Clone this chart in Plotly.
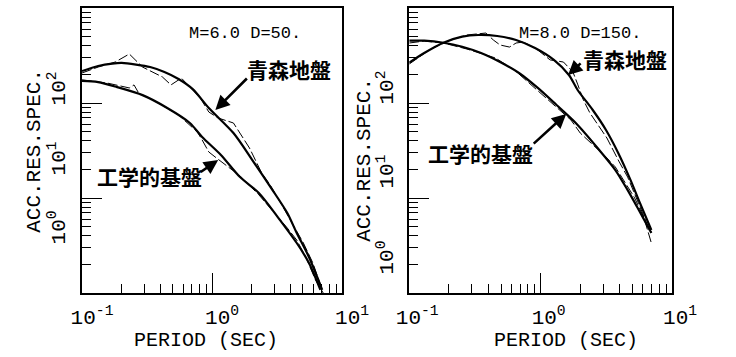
import numpy as np
import plotly.graph_objects as go

# ---------------- data ----------------
# Left panel: M=6.0, D=50
l_aomori_fit_T = [0.1, 0.133, 0.171, 0.202, 0.260, 0.334, 0.430, 0.552, 0.710, 0.944, 1.46, 2.04, 2.85, 3.79, 4.48, 5.56, 7.03]
l_aomori_fit_A = [217, 245, 260, 264, 254, 239, 212, 179, 140, 88.6, 48.3, 25.1, 12.7, 6.95, 4.28, 2.39, 1.08]
l_base_fit_T = [0.1, 0.133, 0.186, 0.292, 0.452, 0.675, 0.839, 1.17, 1.64, 2.29, 3.20, 4.48, 5.56, 6.81]
l_base_fit_A = [171, 166, 147, 121, 88.6, 61.6, 43.9, 28.4, 16.6, 11.3, 6.3, 3.36, 2.07, 1.08]
l_aomori_obs_T = [0.1, 0.133, 0.180, 0.231, 0.292, 0.363, 0.415, 0.483, 0.581, 0.710, 0.811, 0.944, 1.114,
                  1.46, 1.72, 1.94, 2.41, 2.80, 3.37, 4.26, 5.04, 5.96, 7.03]
l_aomori_obs_A = [207, 239, 270, 328, 239, 207, 188, 155, 183, 137, 113, 80.4, 69.5,
                  61.6, 43.9, 33.6, 18.3, 13.7, 8.86, 4.95, 3.36, 2.07, 1.08]
l_base_obs_T = [0.1, 0.157, 0.231, 0.251, 0.273, 0.363, 0.552, 0.771, 0.839, 0.944, 1.08, 1.32, 1.64,
                2.29, 3.37, 3.79, 4.48, 5.30, 6.25, 7.16]
l_base_obs_A = [175, 162, 144, 155, 127, 105, 74.8, 49.5, 40.8, 30.5, 26.4, 21.2, 17.1,
                10.8, 5.87, 4.83, 3.61, 2.34, 1.37, 1.0]

# Right panel: M=8.0, D=150
r_aomori_fit_T = [0.1, 0.130, 0.182, 0.253, 0.335, 0.467, 0.650, 0.906, 1.26, 1.64, 1.91, 2.49, 3.14, 3.89, 4.82, 5.69, 6.95]
r_aomori_fit_A = [266, 336, 431, 499, 520, 507, 460, 379, 284, 197, 137, 84.4, 52, 29.8, 15.5, 8.86, 4.61]
r_base_fit_T = [0.1, 0.130, 0.182, 0.253, 0.352, 0.491, 0.684, 0.951, 1.32, 1.85, 2.79, 3.70, 4.59, 5.42, 6.95]
r_base_fit_A = [453, 453, 431, 391, 336, 270, 207, 144, 95.3, 61.6, 32.0, 19.7, 12.1, 8.04, 4.28]
r_aomori_obs_T = [0.1, 0.142, 0.197, 0.275, 0.383, 0.437, 0.491, 0.579, 0.650, 0.743, 0.951, 1.18, 1.49,
                  1.76, 1.91, 2.11, 2.37, 2.79, 3.19, 3.89, 4.59, 5.42, 6.40, 6.95]
r_aomori_obs_A = [257, 361, 449, 520, 545, 460, 408, 388, 428, 439, 361, 284, 270,
                  212, 158, 108, 78.5, 55.9, 42.8, 25.1, 16.6, 9.53, 5.46, 4.39]
r_base_obs_T = [0.1, 0.130, 0.182, 0.275, 0.452, 0.630, 0.921, 1.22, 1.70, 2.00, 3.14, 3.70, 5.15, 6.08, 6.95]
r_base_obs_A = [428, 449, 428, 370, 298, 223, 140, 100, 66.2, 48.3, 27, 21.2, 10.2, 6.31, 3.36]

x_tick_vals = [0.1, 1, 10]
x_tick_text = ["10<sup>-1</sup>", "10<sup>0</sup>", "10<sup>1</sup>"]
y_tick_vals = [1, 10, 100, 1000]
y_label_text = ["10<sup>0</sup>", "10<sup>1</sup>", "10<sup>2</sup>"]
panel_titles = ["M=6.0 D=50.", "M=8.0 D=150."]
label_aomori = "青森地盤"
label_base = "工学的基盤"
x_title = "PERIOD (SEC)"
y_title = "ACC.RES.SPEC."

# ---------------- layout helpers ----------------
W, H = 736, 357
def px(x):
    return x / W
def py(y):
    return 1 - y / H

MONO = "Liberation Mono, DejaVu Sans Mono, monospace"
CJK = "Noto Sans CJK JP, Noto Sans CJK SC, sans-serif"

x_minor = [m * 10.0 ** d for d in (-1, 0) for m in range(2, 10)]
y_minor = [m * 10.0 ** d for d in (0, 1, 2) for m in range(2, 10)]

fig = go.Figure()

def add_line(T, A, xa, ya, width, dash="solid", shape="linear"):
    fig.add_trace(go.Scatter(x=T, y=A, xaxis=xa, yaxis=ya, mode="lines",
                             line=dict(color="black", width=width, dash=dash, shape=shape, smoothing=0.8),
                             showlegend=False, hoverinfo="skip"))

add_line(l_aomori_obs_T, l_aomori_obs_A, "x", "y", 1, "10px,3px")
add_line(l_base_obs_T, l_base_obs_A, "x", "y", 1, "10px,3px")
add_line(l_aomori_fit_T, l_aomori_fit_A, "x", "y", 2.2, shape="spline")
add_line(l_base_fit_T, l_base_fit_A, "x", "y", 2.2, shape="spline")
add_line(r_aomori_obs_T, r_aomori_obs_A, "x2", "y2", 1, "10px,3px")
add_line(r_base_obs_T, r_base_obs_A, "x2", "y2", 1, "10px,3px")
add_line(r_aomori_fit_T, r_aomori_fit_A, "x2", "y2", 2.2, shape="spline")
add_line(r_base_fit_T, r_base_fit_A, "x2", "y2", 2.2, shape="spline")

ydom = [py(293), py(8)]

def xaxis_cfg(domain, anchor, shift):
    return dict(type="log", range=[-1, 1], domain=domain, anchor=anchor,
                showline=True, linecolor="black", linewidth=1.6, mirror=True,
                ticks="inside", tickvals=x_tick_vals, ticktext=x_tick_text, ticklen=20,
                tickwidth=1.2, tickcolor="black",
                minor=dict(tickmode="array", tickvals=x_minor, ticks="inside", ticklen=9,
                           tickwidth=1.2, tickcolor="black", showgrid=False),
                tickfont=dict(family=MONO, size=21, color="black"),
                ticklabelshift=shift, ticklabelstandoff=4,
                showgrid=False, zeroline=False)

def yaxis_cfg(anchor):
    return dict(type="log", range=[0, 3], domain=ydom, anchor=anchor,
                showline=True, linecolor="black", linewidth=1.6, mirror=True,
                ticks="inside", tickvals=y_tick_vals, ticklen=20, tickwidth=1.2, tickcolor="black",
                showticklabels=False,
                minor=dict(tickmode="array", tickvals=y_minor, ticks="inside", ticklen=9,
                           tickwidth=1.2, tickcolor="black", showgrid=False),
                showgrid=False, zeroline=False)

fig.update_layout(
    width=W, height=H, margin=dict(l=0, r=0, t=0, b=0),
    paper_bgcolor="white", plot_bgcolor="white",
    xaxis=xaxis_cfg([px(73), px(348)], "y", 10),
    yaxis=yaxis_cfg("x"),
    xaxis2=xaxis_cfg([px(419), px(697)], "y2", 8),
    yaxis2=yaxis_cfg("x2"),
)

ann = []
def text_ann(x, y, text, font, size, angle=0):
    ann.append(dict(xref="paper", yref="paper", x=px(x), y=py(y), text=text, showarrow=False,
                    xanchor="center", yanchor="middle", textangle=angle,
                    font=dict(family=font, size=size, color="black")))

# y-axis decade labels (placed as in the reference, rotated)
for lab, ypos in zip(y_label_text, [227, 158, 88]):
    text_ann(47, ypos, lab, MONO, 21, -90)
for lab, ypos in zip(y_label_text, [258, 172, 88]):
    text_ann(394, ypos, lab, MONO, 21, -90)

# axis titles
text_ann(204, 340, x_title, MONO, 20)
text_ann(585, 340, x_title, MONO, 20)
text_ann(22, 151, y_title, MONO, 21, -90)
text_ann(371, 160, y_title, MONO, 21, -90)
# panel titles
text_ann(245, 33, panel_titles[0], MONO, 17)
text_ann(600, 33, panel_titles[1], MONO, 17)
# site labels
text_ann(292, 69, "<b>" + label_aomori + "</b>", CJK, 21)
text_ann(144, 176, "<b>" + label_base + "</b>", CJK, 21)
text_ann(647, 59, "<b>" + label_aomori + "</b>", CJK, 21)
text_ann(494, 153, "<b>" + label_base + "</b>", CJK, 21)

# arrows (tip in data coordinates of each panel, tail offset in pixels)
def arrow(xr, yr, tip_px, tail_px, x0):
    tx = -1 + (tip_px[0] - x0[0]) / x0[1]
    ty = (293 - tip_px[1]) / 95.0
    ann.append(dict(xref=xr, yref=yr, x=tx, y=ty, text="", showarrow=True,
                    ax=tail_px[0] - tip_px[0], ay=tail_px[1] - tip_px[1],
                    arrowhead=2, arrowsize=1.1, arrowwidth=2.6, arrowcolor="black"))

arrow("x", "y", (214, 110), (247, 77), (73, 137.5))
arrow("x", "y", (217, 160), (198, 173), (73, 137.5))
arrow("x2", "y2", (587, 75), (601, 62), (419, 139))
arrow("x2", "y2", (585, 114), (551, 145), (419, 139))

fig.update_layout(annotations=ann)
fig.write_html("out.html")
